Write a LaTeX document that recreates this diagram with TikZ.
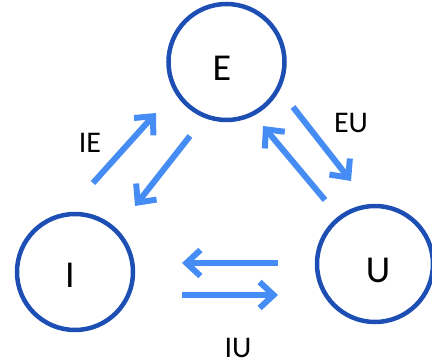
\documentclass[tikz,border=0pt]{standalone}
\usepackage{fontspec}
\setmainfont{Carlito}
\usetikzlibrary{arrows.meta}
\definecolor{ring}{RGB}{28,78,180}
\definecolor{arr}{RGB}{70,140,245}
\begin{document}
\begin{tikzpicture}[x=1pt,y=-1pt,
 state/.style={circle,draw=ring,line width=4.5pt,minimum size=116pt,inner sep=0pt},
 big/.style={inner sep=0pt,font=\fontsize{38}{40}\selectfont},
 lbl/.style={inner sep=0pt,font=\fontsize{30}{32}\selectfont},
 flow/.style={draw=arr,line width=6pt,-{Straight Barb[length=14pt,width=26pt]}}]
\useasboundingbox (0,0) rectangle (432,364);
\node[state] (E) at (226.5,62) {};
\node[state] (I) at (75,272) {};
\node[state] (U) at (375,264) {};
\node[big] (Et) at (222,68) {E};
\node[big] (It) at (70,275) {I};
\node[big] (Ut) at (378,270) {U};
\node[lbl] (IE) at (90,143) {IE};
\node[lbl] (EU) at (351,123) {EU};
\node[lbl] (IU) at (238,348) {IU};
\coordinate (a1) at (93,183); \coordinate (a2) at (156,113);
\coordinate (b1) at (190,136); \coordinate (b2) at (135,206);
\coordinate (c1) at (293,107); \coordinate (c2) at (351,181);
\coordinate (d1) at (325,200); \coordinate (d2) at (263,126);
\coordinate (e1) at (278,263); \coordinate (e2) at (182,263);
\coordinate (f1) at (182,295); \coordinate (f2) at (278,295);
\draw[flow] (a1) -- (a2);
\draw[flow] (b1) -- (b2);
\draw[flow] (c1) -- (c2);
\draw[flow] (d1) -- (d2);
\draw[flow] (e1) -- (e2);
\draw[flow] (f1) -- (f2);
\end{tikzpicture}
\end{document}
